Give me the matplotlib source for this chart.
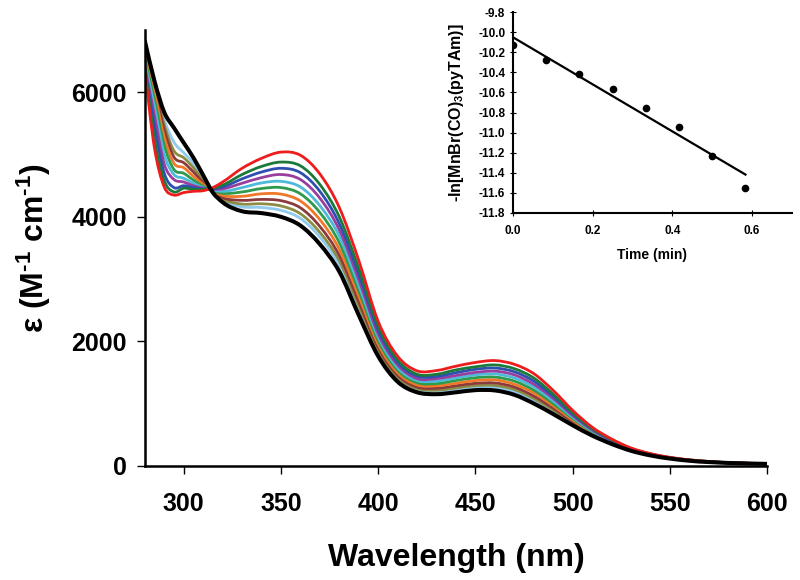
import numpy as np
import matplotlib
matplotlib.use("Agg")
import matplotlib.pyplot as plt
from matplotlib.path import Path
from matplotlib.patches import PathPatch
from matplotlib.ticker import FormatStrFormatter

plt.rcParams['font.family'] = ['Liberation Sans', 'DejaVu Sans']
plt.rcParams['font.weight'] = 'bold'
plt.rcParams['axes.unicode_minus'] = False
plt.rcParams['mathtext.fontset'] = 'custom'
plt.rcParams['mathtext.rm'] = 'Liberation Sans:bold'
plt.rcParams['mathtext.bf'] = 'Liberation Sans:bold'
plt.rcParams['mathtext.default'] = 'bf'

# wavelength grid (nm)
wavelength = [280, 285, 290, 295, 300, 305, 310, 315, 320, 330, 340, 350, 360, 370, 380, 390, 400,
              410, 420, 430, 440, 450, 460, 470, 480, 490, 500, 510, 520, 530, 540, 550, 560, 580, 600]

# extinction coefficients, one trace per time point (first = red, last = black)
eps_red = [6350, 5100, 4480, 4350, 4390, 4410, 4420, 4470, 4560, 4780, 4940, 5040, 4990, 4690, 4150, 3300, 2320,
           1760, 1525, 1530, 1600, 1660, 1690, 1630, 1480, 1210, 890, 620, 430, 285, 195, 135, 95, 50, 35]
eps_dkgreen = [6400, 5250, 4580, 4400, 4460, 4440, 4440, 4460, 4510, 4680, 4810, 4880, 4820, 4520, 4000, 3170, 2240,
               1700, 1470, 1470, 1540, 1590, 1620, 1560, 1410, 1150, 850, 600, 420, 280, 190, 130, 95, 50, 34]
eps_blue = [6400, 5450, 4700, 4470, 4500, 4470, 4450, 4450, 4480, 4610, 4720, 4780, 4710, 4410, 3890, 3080, 2180,
            1660, 1440, 1435, 1495, 1550, 1570, 1510, 1360, 1115, 830, 590, 410, 275, 188, 130, 91, 49, 34]
eps_purple = [6420, 5620, 4850, 4600, 4560, 4500, 4460, 4440, 4450, 4540, 4630, 4680, 4600, 4300, 3790, 2990, 2120,
              1620, 1400, 1400, 1450, 1500, 1520, 1460, 1310, 1080, 805, 575, 400, 270, 185, 128, 90, 48, 33]
eps_cyan = [6480, 5760, 5000, 4680, 4620, 4540, 4470, 4430, 4410, 4470, 4545, 4570, 4480, 4180, 3690, 2900, 2070,
            1575, 1370, 1360, 1410, 1460, 1475, 1410, 1265, 1040, 780, 560, 395, 265, 182, 126, 88, 48, 33]
eps_green = [6530, 5880, 5150, 4760, 4700, 4590, 4490, 4420, 4380, 4400, 4455, 4470, 4370, 4070, 3585, 2815, 2010,
             1535, 1335, 1320, 1370, 1415, 1425, 1360, 1215, 1000, 760, 545, 385, 260, 178, 124, 87, 47, 32]
eps_orange = [6580, 5980, 5280, 4860, 4790, 4650, 4520, 4410, 4345, 4330, 4370, 4365, 4255, 3955, 3480, 2730, 1955,
              1495, 1300, 1285, 1325, 1370, 1380, 1310, 1170, 965, 735, 530, 380, 255, 176, 122, 85, 47, 32]
eps_brown = [6620, 6060, 5400, 4960, 4870, 4720, 4550, 4400, 4310, 4265, 4280, 4260, 4145, 3845, 3380, 2640, 1900,
             1455, 1265, 1245, 1285, 1325, 1330, 1265, 1120, 925, 710, 520, 370, 250, 173, 120, 84, 46, 31]
eps_olive = [6660, 6110, 5480, 5060, 4950, 4790, 4580, 4390, 4285, 4205, 4210, 4175, 4050, 3750, 3295, 2570, 1855,
             1420, 1240, 1215, 1250, 1290, 1290, 1225, 1080, 895, 690, 508, 364, 248, 170, 118, 83, 46, 31]
eps_ltblue = [6710, 6150, 5560, 5200, 5030, 4860, 4610, 4385, 4265, 4160, 4150, 4105, 3975, 3675, 3225, 2510, 1815,
              1390, 1215, 1190, 1220, 1260, 1260, 1190, 1050, 870, 675, 500, 358, 245, 168, 117, 82, 45, 30]
eps_black = [6830, 6180, 5680, 5430, 5190, 4950, 4670, 4390, 4235, 4090, 4060, 4000, 3860, 3560, 3120, 2420, 1760,
             1350, 1180, 1150, 1180, 1215, 1210, 1140, 1000, 830, 650, 485, 350, 240, 165, 115, 80, 45, 30]

traces = [eps_red, eps_dkgreen, eps_blue, eps_purple, eps_cyan, eps_green,
          eps_orange, eps_brown, eps_olive, eps_ltblue]
trace_colors = ['#EE1C1C', '#1B7A3A', '#2F4FB0', '#9A3E9E', '#4DBAD9', '#2E9A4C',
                '#F07828', '#8B3B3B', '#8C8C45', '#8FCBEF']

# inset: kinetics
time_min = [0.0, 0.0833, 0.1667, 0.25, 0.3333, 0.4167, 0.5, 0.5833]
neg_ln_conc = [-10.13, -10.28, -10.42, -10.57, -10.75, -10.94, -11.23, -11.55]


def smooth_path(x, y):
    # smooth line through the points (cubic segments, like a spreadsheet "smoothed line")
    x = np.asarray(x, float)
    y = np.asarray(y, float)
    m = np.gradient(y, x)
    verts = [(x[0], y[0])]
    codes = [Path.MOVETO]
    for i in range(len(x) - 1):
        h = x[i + 1] - x[i]
        verts += [(x[i] + h / 3, y[i] + m[i] * h / 3),
                  (x[i + 1] - h / 3, y[i + 1] - m[i + 1] * h / 3),
                  (x[i + 1], y[i + 1])]
        codes += [Path.CURVE4] * 3
    return Path(verts, codes)


fig = plt.figure(figsize=(8, 5.8), dpi=100)
ax = fig.add_axes([0.181, 0.197, 0.778, 0.751])

for vals, col in zip(traces[::-1], trace_colors[::-1]):
    ax.add_patch(PathPatch(smooth_path(wavelength, vals), fill=False, edgecolor=col,
                           lw=2.0, capstyle='round', joinstyle='round'))
ax.add_patch(PathPatch(smooth_path(wavelength, eps_black), fill=False, edgecolor='black',
                       lw=2.9, capstyle='round', joinstyle='round'))

ax.set_xlim(280, 600)
ax.set_ylim(0, 7000)
ax.set_xticks([300, 350, 400, 450, 500, 550, 600])
ax.set_yticks([0, 2000, 4000, 6000])
for s in ['top', 'right']:
    ax.spines[s].set_visible(False)
for s in ['left', 'bottom']:
    ax.spines[s].set_linewidth(1.8)
ax.tick_params(axis='both', direction='out', length=6, width=1, labelsize=18)
ax.tick_params(axis='x', pad=13)
ax.tick_params(axis='y', pad=7)
for lab in ax.get_xticklabels() + ax.get_yticklabels():
    lab.set_fontweight('bold')
ax.set_xlabel('Wavelength (nm)', fontsize=23, fontweight='bold')
ax.xaxis.set_label_coords(0.5, -0.178)
ax.set_ylabel(r'ε (M$^{\text{-}1}$ cm$^{\text{-}1}$)', fontsize=23, fontweight='bold')
ax.yaxis.set_label_coords(-0.148, 0.5)

# inset
ins = fig.add_axes([0.641, 0.633, 0.349, 0.346])
ins.plot(time_min, neg_ln_conc, 'o', color='black', ms=4.5)
slope, intercept = np.polyfit(time_min, neg_ln_conc, 1)
t_fit = np.array([time_min[0], time_min[-1]])
ins.plot(t_fit, slope * t_fit + intercept, color='black', lw=1.6)
ins.set_xlim(0, 0.7)
ins.set_ylim(-11.8, -9.8)
ins.set_xticks([0.0, 0.2, 0.4, 0.6])
ins.set_yticks(np.round(np.arange(-11.8, -9.79, 0.2), 1))
ins.xaxis.set_major_formatter(FormatStrFormatter('%.1f'))
ins.yaxis.set_major_formatter(FormatStrFormatter('%.1f'))
for s in ['top', 'right']:
    ins.spines[s].set_visible(False)
for s in ['left', 'bottom']:
    ins.spines[s].set_linewidth(1.5)
ins.tick_params(axis='both', direction='inout', length=4, width=0.8, labelsize=8.5)
ins.tick_params(axis='x', pad=7)
for lab in ins.get_xticklabels() + ins.get_yticklabels():
    lab.set_fontweight('bold')
ins.set_xlabel('Time (min)', fontsize=10, fontweight='bold', labelpad=8)
ins.set_ylabel(r'-ln[MnBr(CO)$_3$(pyTAm)]', fontsize=11.5, fontweight='bold', labelpad=9)

fig.savefig('out.png', dpi=100)
